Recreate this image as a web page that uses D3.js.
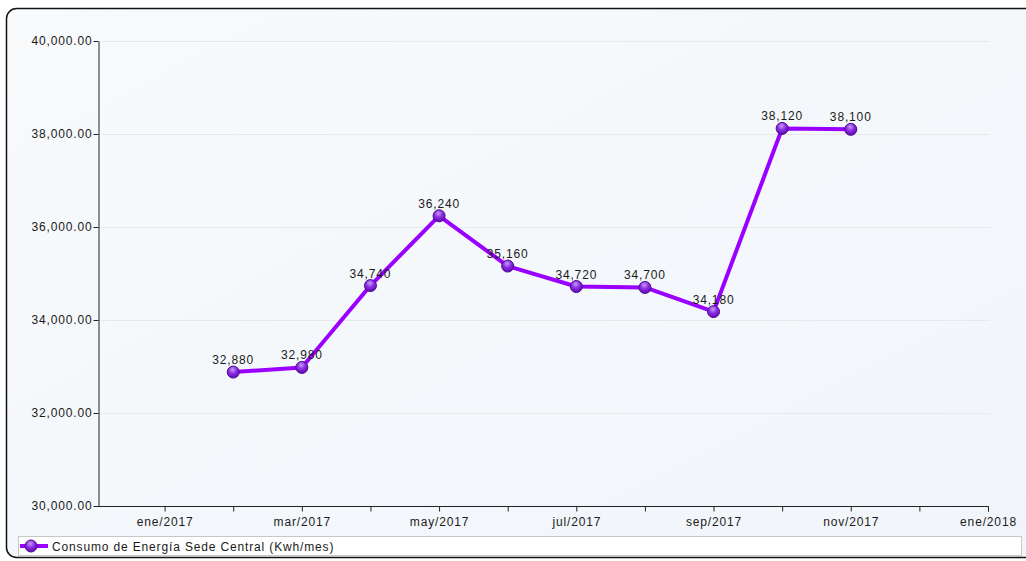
<!DOCTYPE html>
<html>
<head>
<meta charset="utf-8">
<script src="https://cdn.jsdelivr.net/npm/d3@7"></script>
<style>
  html, body { margin: 0; padding: 0; background: #ffffff; }
  svg { display: block; font-family: "Liberation Sans", Arial, sans-serif; }
  svg text { letter-spacing: 0.85px; }
</style>
</head>
<body>
<svg id="chart" width="1026" height="561"></svg>
<script>
// Axis months, dic/2016 .. ene/2018
const months = ["dic/2016", "ene/2017", "feb/2017", "mar/2017", "abr/2017", "may/2017", "jun/2017",
  "jul/2017", "ago/2017", "sep/2017", "oct/2017", "nov/2017", "dic/2017", "ene/2018"];
// Months with readings
const dataMonths = ["feb/2017", "mar/2017", "abr/2017", "may/2017", "jun/2017",
  "jul/2017", "ago/2017", "sep/2017", "oct/2017", "nov/2017"];
// Energy consumption (kWh/mes)
const consumo = [32880, 32980, 34740, 36240, 35160, 34720, 34700, 34180, 38120, 38100];
const labeledMonths = ["ene/2017", "mar/2017", "may/2017", "jul/2017", "sep/2017", "nov/2017", "ene/2018"];
const yTicks = [30000, 32000, 34000, 36000, 38000, 40000];
const seriesName = "Consumo de Energía Sede Central (Kwh/mes)";

const svg = d3.select("#chart");
const defs = svg.append("defs");

const bg = defs.append("linearGradient").attr("id", "bg")
  .attr("x1", "0").attr("y1", "0").attr("x2", "1").attr("y2", "1");
bg.append("stop").attr("offset", "0").attr("stop-color", "#f8fafc");
bg.append("stop").attr("offset", "1").attr("stop-color", "#f1f5fa");

const mk = defs.append("radialGradient").attr("id", "mk")
  .attr("cx", "0.45").attr("cy", "0.3").attr("r", "0.75");
mk.append("stop").attr("offset", "0").attr("stop-color", "#c99af5");
mk.append("stop").attr("offset", "0.45").attr("stop-color", "#8a2ee0");
mk.append("stop").attr("offset", "1").attr("stop-color", "#5c00b0");

// Frame
svg.append("rect").attr("x", 6.5).attr("y", 8.5).attr("width", 1040).attr("height", 549)
  .attr("rx", 10).attr("fill", "url(#bg)").attr("stroke", "#111").attr("stroke-width", 1.5);

const plotLeft = 98;
const x = d3.scalePoint().domain(months).range([96, 988]);
const y = d3.scaleLinear().domain([30000, 40000]).range([506, 41]);

// Grid lines
svg.append("g").selectAll("line").data(yTicks.slice(1)).join("line")
  .attr("x1", plotLeft).attr("x2", 990)
  .attr("y1", d => Math.round(y(d)) + 0.5).attr("y2", d => Math.round(y(d)) + 0.5)
  .attr("stroke", "#e9e9ea").attr("stroke-width", 1);

// Y axis
const yAxis = svg.append("g").attr("transform", `translate(${plotLeft + 0.5},0)`)
  .call(d3.axisLeft(y).tickValues(yTicks).tickSize(5).tickSizeOuter(0)
    .tickFormat(d3.format(",.2f")));
yAxis.select(".domain").attr("stroke", "#222");
yAxis.selectAll(".tick line").attr("stroke", "#222");
yAxis.selectAll("text").attr("font-size", 12).attr("fill", "#1a1a1a").attr("x", -6)
  .attr("font-family", "Liberation Sans, Arial, sans-serif");

// X axis (baseline starts at the value axis)
const xAxis = svg.append("g").attr("transform", "translate(0,506.5)")
  .call(d3.axisBottom(x).tickSize(5).tickSizeOuter(0)
    .tickFormat(d => labeledMonths.includes(d) ? d : ""));
xAxis.select(".domain").attr("stroke", "#222")
  .attr("d", `M${plotLeft},0H${x.range()[1] + 0.5}V5`);
xAxis.selectAll(".tick").filter(d => d === months[0]).remove();
xAxis.selectAll(".tick line").attr("stroke", "#222");
xAxis.selectAll("text").attr("font-size", 12).attr("fill", "#1a1a1a").attr("dy", "0.95em")
  .attr("font-family", "Liberation Sans, Arial, sans-serif");

// Series
const pts = dataMonths.map((m, i) => ({ m, v: consumo[i] }));
svg.append("path").datum(pts)
  .attr("fill", "none").attr("stroke", "#9a00ff").attr("stroke-width", 4)
  .attr("stroke-linejoin", "round")
  .attr("d", d3.line().x(d => x(d.m)).y(d => y(d.v)));

svg.append("g").selectAll("circle").data(pts).join("circle")
  .attr("cx", d => x(d.m)).attr("cy", d => y(d.v)).attr("r", 6)
  .attr("fill", "url(#mk)").attr("stroke", "#4a0a8a").attr("stroke-width", 1);

svg.append("g").selectAll("text").data(pts).join("text")
  .attr("x", d => x(d.m)).attr("y", d => y(d.v) - 8)
  .attr("text-anchor", "middle").attr("font-size", 12).attr("fill", "#1a1a1a")
  .text(d => d3.format(",")(d.v));

// Legend
const lg = svg.append("g");
lg.append("rect").attr("x", 18.5).attr("y", 536.5).attr("width", 1003).attr("height", 19)
  .attr("fill", "#ffffff").attr("stroke", "#c8c8c8");
lg.append("line").attr("x1", 20).attr("x2", 48).attr("y1", 546).attr("y2", 546)
  .attr("stroke", "#9a00ff").attr("stroke-width", 4);
lg.append("circle").attr("cx", 31).attr("cy", 546).attr("r", 6)
  .attr("fill", "url(#mk)").attr("stroke", "#4a0a8a");
lg.append("text").attr("x", 52).attr("y", 550.5).attr("font-size", 12).attr("fill", "#1a1a1a")
  .text(seriesName);
</script>
</body>
</html>
